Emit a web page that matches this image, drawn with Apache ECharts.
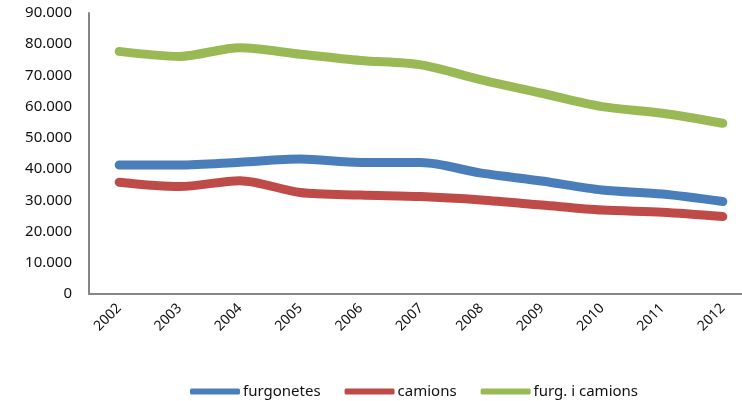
<!DOCTYPE html>
<html>
<head>
<meta charset="utf-8">
<script src="https://cdn.jsdelivr.net/npm/echarts@6/dist/echarts.min.js"></script>
<style>
  html, body { margin: 0; padding: 0; background: #fff; }
  #chart { width: 742px; height: 401px; }
</style>
</head>
<body>
<div id="chart"></div>
<script>
// anys
const years = ['2002', '2003', '2004', '2005', '2006', '2007', '2008', '2009', '2010', '2011', '2012']

// valors llegits del gràfic
const furgonetes = [41300, 41300, 42200, 43200, 42100, 42100, 38700, 36200, 33300, 32000, 29600]
const camions = [35800, 34400, 36300, 32500, 31700, 31200, 30100, 28500, 26900, 26200, 24800]
const total = [77700, 76100, 78900, 76800, 74800, 73400, 68600, 64300, 60000, 57900, 54700]

const seriesNames = ['furgonetes', 'camions', 'furg. i camions']
const colors = ['#4A7EBB', '#BE4B48', '#98B954']

const font = '"Noto Sans", sans-serif'

const chart = echarts.init(document.getElementById('chart'))

const makeLine = (name, data, color) => ({
  name,
  type: 'line',
  data,
  smooth: 0.3,
  showSymbol: false,
  lineStyle: { color, width: 9, cap: 'round', join: 'round' },
  itemStyle: { color }
})

chart.setOption({
  animation: false,
  textStyle: { fontFamily: font },
  grid: { left: 89, width: 664, top: 13, height: 281, outerBoundsMode: 'none', containLabel: false },
  legend: {
    left: 185,
    top: 379,
    itemWidth: 50,
    itemHeight: 6,
    itemGap: 24,
    icon: 'roundRect',
    textStyle: { fontFamily: font, fontSize: 15, color: '#111', padding: [0, 0, 0, -2] },
    data: seriesNames
  },
  xAxis: {
    type: 'category',
    data: years,
    boundaryGap: true,
    axisLine: { lineStyle: { color: '#868686', width: 2 } },
    axisTick: { show: false },
    axisLabel: { rotate: 45, margin: 12, fontSize: 14, color: '#111', fontFamily: font }
  },
  yAxis: {
    type: 'value',
    min: 0,
    max: 90000,
    interval: 10000,
    axisLine: { show: true, lineStyle: { color: '#868686', width: 2 } },
    axisTick: { show: false },
    splitLine: { show: false },
    axisLabel: {
      margin: 17,
      fontSize: 15,
      color: '#111',
      fontFamily: font,
      formatter: v => v === 0 ? '0' : (v / 1000).toFixed(3)
    }
  },
  series: [
    makeLine(seriesNames[0], furgonetes, colors[0]),
    makeLine(seriesNames[1], camions, colors[1]),
    makeLine(seriesNames[2], total, colors[2])
  ]
})

window.addEventListener('resize', () => chart.resize())
</script>
</body>
</html>
